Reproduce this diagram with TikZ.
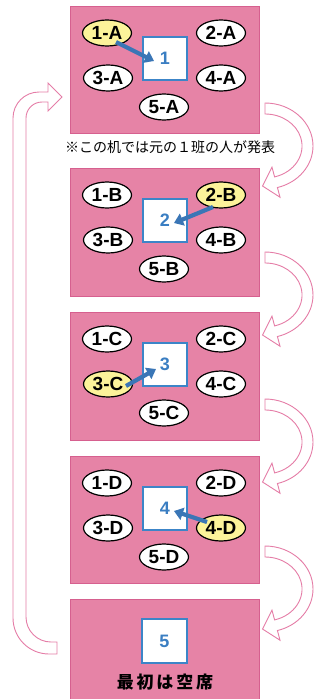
\documentclass[tikz,border=0pt]{standalone}
\usepackage{fontspec}
\setmainfont{Liberation Sans}
\newfontfamily\cjk{Noto Sans CJK JP}
\usetikzlibrary{arrows.meta,shapes.geometric,calc}
\definecolor{panelfill}{HTML}{E683A6}
\definecolor{paneldraw}{HTML}{D6608F}
\definecolor{seatyellow}{HTML}{FCF39A}
\definecolor{deskblue}{HTML}{3C85C8}
\definecolor{numblue}{HTML}{3A7EC2}
\definecolor{arrowblue}{HTML}{3A76B6}
\definecolor{hollowpink}{HTML}{E57DA7}
\tikzset{
  panel/.style={fill=panelfill,draw=paneldraw,line width=1pt},
  seat/.style={ellipse,draw=black,line width=1.2pt,fill=white,minimum width=49pt,minimum height=26pt,inner sep=0pt,font=\bfseries\fontsize{19}{19}\selectfont},
  hlseat/.style={seat,fill=seatyellow},
  desk/.style={draw=deskblue,line width=1.1pt,fill=white,minimum width=44pt,minimum height=43pt,inner sep=0pt,text=numblue,font=\bfseries\fontsize{18}{18}\selectfont},
  movearrow/.style={draw=arrowblue,line width=4.2pt,-{Triangle[width=12.5pt,length=9pt]}},
  hollow/.style={draw=hollowpink,line width=0.9pt,fill=white,line join=miter},
}
\newcommand{\cturn}[2]{%
  \path[hollow] (#1,#2) arc[start angle=-90,end angle=75,x radius=48,y radius=43]
    -- ++(2.6,9.7) -- ($(#1,#2)+(-2.5,83)$) -- ($(#1,#2)+(7,64.2)$) -- ($(#1,#2)+(9.6,73.9)$)
    arc[start angle=75,end angle=-90,x radius=37,y radius=32] -- cycle;}
\begin{document}
\begin{tikzpicture}[x=1pt,y=-1pt]
\useasboundingbox (0,0) rectangle (321,699);

% panels
\path[panel] (70,6) rectangle (259,133);
\path[panel] (70,168) rectangle (259,296);
\path[panel] (70,312) rectangle (259,440);
\path[panel] (70,456) rectangle (259,583);
\path[panel] (70,599) rectangle (259,705);

% panel A
\node[hlseat] (s1A) at (107,33) {1-A};
\node[seat] (s2A) at (221,33) {2-A};
\node[seat] (s3A) at (108,78) {3-A};
\node[seat] (s4A) at (221,78) {4-A};
\node[seat] (s5A) at (164,107) {5-A};
\node[desk] (dA) at (165,58.5) {1};
\coordinate (aAs) at (116,42);
\coordinate (aAe) at (154,61);
\draw[movearrow] (aAs) -- (aAe);

% note
\node[font=\cjk\fontsize{14}{14}\selectfont,inner sep=0pt] (note) at (170,147) {※この机では元の１班の人が発表};

% panel B
\node[seat] (s1B) at (107,195) {1-B};
\node[hlseat] (s2B) at (221,195) {2-B};
\node[seat] (s3B) at (108,240) {3-B};
\node[seat] (s4B) at (221,240) {4-B};
\node[seat] (s5B) at (164,269) {5-B};
\node[desk] (dB) at (165,220.5) {2};
\coordinate (aBs) at (213,207);
\coordinate (aBe) at (174,223);
\draw[movearrow] (aBs) -- (aBe);

% panel C
\node[seat] (s1C) at (107,339) {1-C};
\node[seat] (s2C) at (221,339) {2-C};
\node[hlseat] (s3C) at (108,384) {3-C};
\node[seat] (s4C) at (221,384) {4-C};
\node[seat] (s5C) at (164,413) {5-C};
\node[desk] (dC) at (165,364.5) {3};
\coordinate (aCs) at (126,386);
\coordinate (aCe) at (156,369);
\draw[movearrow] (aCs) -- (aCe);

% panel D
\node[seat] (s1D) at (107,483) {1-D};
\node[seat] (s2D) at (221,483) {2-D};
\node[seat] (s3D) at (108,528) {3-D};
\node[hlseat] (s4D) at (221,528) {4-D};
\node[seat] (s5D) at (164,557) {5-D};
\node[desk] (dD) at (165,508.5) {4};
\coordinate (aDs) at (207,522);
\coordinate (aDe) at (174,511);
\draw[movearrow] (aDs) -- (aDe);

% panel E
\node[desk,minimum width=45pt,minimum height=44pt] (dE) at (164.5,641) {5};
\node[font=\cjk\bfseries\fontsize{17}{17}\selectfont,inner sep=0pt] (empty) at (165,682) {最\,初\,は\,空\,席};

% turning arrows on the right
\cturn{265}{103}
\cturn{265}{252}
\cturn{265}{399}
\cturn{265}{546}

% long return arrow on the left
\path[hollow] (57,654) -- (49,654) arc[start angle=90,end angle=180,radius=36]
  -- (13,118) arc[start angle=180,end angle=270,radius=26]
  -- (48,92) -- (48,83) -- (62,97) -- (48,111) -- (48,102) -- (42,102)
  arc[start angle=270,end angle=180,radius=16]
  -- (26,617) arc[start angle=180,end angle=90,radius=25]
  -- (57,642) -- cycle;
\end{tikzpicture}
\end{document}
